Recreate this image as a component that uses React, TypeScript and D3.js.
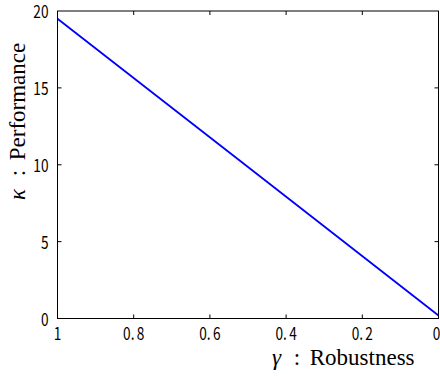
import React from "react";
import * as d3 from "d3";

const robustness = [1, 0.5, 0];
const performance = [19.5, 9.85, 0.2];
const xTicks = [1, 0.8, 0.6, 0.4, 0.2, 0];
const yTicks = [0, 5, 10, 15, 20];

const W = 440, H = 376;
const M = { left: 57.5, right: 438.5, top: 11, bottom: 318.5 };

export default function App() {
  const x = d3.scaleLinear().domain([1, 0]).range([M.left, M.right]);
  const y = d3.scaleLinear().domain([0, 20]).range([M.bottom, M.top]);
  const line = d3.line<number>().x((_, i) => x(robustness[i])).y((d) => y(d));
  const tickFont = "'Noto Sans CJK JP', sans-serif";
  const serif = "'Liberation Serif', 'Times New Roman', serif";
  const fmtX = (v: number) => {
    if (v === 0 || v === 1) return <>{String(v)}</>;
    const s = String(v);
    return <>{s.slice(0, 2)}<tspan dx={3}>{s.slice(2)}</tspan></>;
  };
  return (
    <svg width={W} height={H} style={{ position: "absolute", left: 0, top: 0, background: "#fff" }}>
      <rect x={0} y={0} width={W} height={H} fill="#fff" />
      {xTicks.filter((t) => t !== 0 && t !== 1).map((t) => (
        <g key={"xt" + t} stroke="#000" strokeWidth={1}>
          <line x1={x(t)} x2={x(t)} y1={M.bottom} y2={M.bottom - 4} />
          <line x1={x(t)} x2={x(t)} y1={M.top} y2={M.top + 4} />
        </g>
      ))}
      {yTicks.filter((t) => t !== 0 && t !== 20).map((t) => (
        <g key={"yt" + t} stroke="#000" strokeWidth={1}>
          <line x1={M.left} x2={M.left + 4} y1={y(t)} y2={y(t)} />
          <line x1={M.right} x2={M.right - 4} y1={y(t)} y2={y(t)} />
        </g>
      ))}
      <path d={line(performance) || ""} fill="none" stroke="#0000ff" strokeWidth={1.8} />
      <rect x={M.left} y={M.top} width={M.right - M.left} height={M.bottom - M.top} fill="none" stroke="#000" strokeWidth={1} />
      {xTicks.map((t) => (
        <text key={"xl" + t} x={0} y={0} textAnchor="middle" fontFamily={tickFont} fontSize={17.5}
          transform={`translate(${t === 0 ? x(t) - 2 : x(t)},340) scale(0.78,1)`} fill="#000">
          {fmtX(t)}
        </text>
      ))}
      {yTicks.map((t) => (
        <text key={"yl" + t} x={0} y={0} textAnchor="end" fontFamily={tickFont} fontSize={17.5}
          transform={`translate(48.5,${y(t) + 7}) scale(0.78,1)`} fill="#000">
          {String(t)}
        </text>
      ))}
      <text y={365} fontFamily={serif} fontSize={23} fill="#000">
        <tspan x={272} fontStyle="italic">γ</tspan>
        <tspan x={288} style={{ whiteSpace: "pre" }}> :</tspan>
        <tspan x={304} style={{ whiteSpace: "pre" }}> Robustness</tspan>
      </text>
      <text transform="translate(25,0) rotate(-90)" y={0} fontFamily={serif} fontSize={23} fill="#000">
        <tspan x={-200} fontStyle="italic">κ</tspan>
        <tspan x={-182} style={{ whiteSpace: "pre" }}> :</tspan>
        <tspan x={-166} style={{ whiteSpace: "pre" }}> Performance</tspan>
      </text>
    </svg>
  );
}
